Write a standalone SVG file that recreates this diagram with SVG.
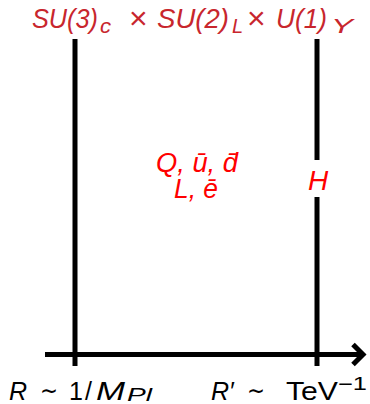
<svg xmlns="http://www.w3.org/2000/svg" width="370" height="404" viewBox="0 0 370 404">
<style>
.ln{stroke:#000;stroke-width:5;fill:none}
.top{font-family:"Liberation Sans","DejaVu Sans",sans-serif;font-style:italic;font-size:28px;fill:#c8262d}
.up{font-style:normal}
.sub{font-size:20px}
.x{font-size:32px}
.fld{font-family:"Liberation Sans","DejaVu Sans",sans-serif;font-style:italic;font-size:28px;fill:#ff0000}
.lab{font-family:"Liberation Sans","DejaVu Sans",sans-serif;font-size:25px;fill:#000}
.it{font-style:italic}
.sm{font-size:18px}
</style>
<g id="title">
<text class="top" x="32" y="28" textLength="66" lengthAdjust="spacingAndGlyphs">SU(3)</text>
<text class="top sub" x="100" y="33" textLength="11" lengthAdjust="spacingAndGlyphs">c</text>
<text class="top up x" x="129" y="29">×</text>
<text class="top" x="157" y="28" textLength="72" lengthAdjust="spacingAndGlyphs">SU(2)</text>
<text class="top sub" x="232" y="33">L</text>
<text class="top up x" x="247" y="29">×</text>
<text class="top" x="276" y="28" textLength="51" lengthAdjust="spacingAndGlyphs">U(1)</text>
<text class="top sub" x="331" y="33" textLength="22" lengthAdjust="spacingAndGlyphs">Y</text>
</g>
<g id="connectors">
<line class="ln" x1="75" y1="39" x2="75" y2="366"/>
<line class="ln" x1="317" y1="39" x2="317" y2="160"/>
<line class="ln" x1="317" y1="197" x2="317" y2="366"/>
<line class="ln" x1="45" y1="354.5" x2="362" y2="354.5"/>
<polyline class="ln" points="353,344.5 363,354.5 353,364.5"/>
</g>
<g id="fields">
<text class="fld" x="156" y="172" textLength="82" lengthAdjust="spacingAndGlyphs">Q, ū, d̄</text>
<text class="fld" x="174" y="198" textLength="44" lengthAdjust="spacingAndGlyphs">L, ē</text>
</g>
<g id="higgs"><text class="fld" x="318" y="190" text-anchor="middle">H</text></g>
<g id="labelR">
<text class="lab it" x="9" y="400">R</text>
<text class="lab" x="40" y="399" font-size="30" textLength="18" lengthAdjust="spacingAndGlyphs">∼</text>
<text class="lab" x="69" y="400">1</text>
<text class="lab" x="85" y="400" font-size="28">/</text>
<text class="lab it" x="96" y="400" textLength="29" lengthAdjust="spacingAndGlyphs">M</text>
<text class="lab it sm" x="127" y="401" textLength="25" lengthAdjust="spacingAndGlyphs">Pl</text>
</g>
<g id="labelRp">
<text class="lab it" x="211" y="400">R′</text>
<text class="lab" x="247" y="399" font-size="30" textLength="18" lengthAdjust="spacingAndGlyphs">∼</text>
<text class="lab" x="286" y="400" textLength="52" lengthAdjust="spacingAndGlyphs">TeV</text>
<text class="lab sm" x="338" y="390" textLength="29" lengthAdjust="spacingAndGlyphs">−1</text>
</g>
</svg>
